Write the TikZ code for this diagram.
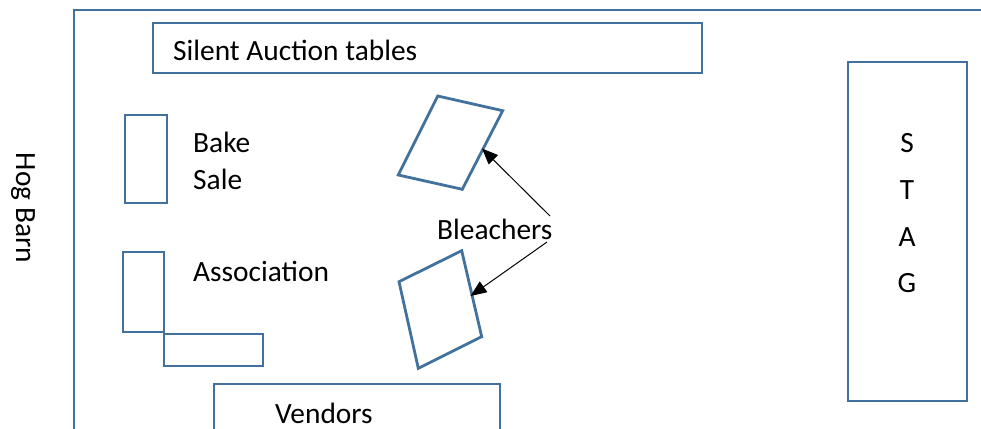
\documentclass[tikz,border=0pt]{standalone}
\usepackage{fontspec}
\setmainfont{Carlito}
\usetikzlibrary{arrows.meta}
\definecolor{plan}{RGB}{65,113,156}
\begin{document}
\begin{tikzpicture}[x=1pt,y=-1pt,
  area/.style={draw=plan,line width=2.8pt,inner sep=0pt,outer sep=0pt},
  lbl/.style={font=\fontsize{29.4}{34}\selectfont,inner sep=0pt,text=black},
  pointer/.style={-{Triangle[length=16pt,width=13pt]},line width=1pt,black}]
\useasboundingbox (0,0) rectangle (981,428);
% outer wall
\draw[draw=plan,line width=2.8pt] (74,440) -- (74,10) -- (990,10);
% boxes
\node[area,minimum width=549pt,minimum height=50pt] (auction) at (427.5,48) {};
\node[area,minimum width=42pt,minimum height=88pt] (bake) at (146,159) {};
\node[area,minimum width=41pt,minimum height=80pt] (assocA) at (143.5,292) {};
\node[area,minimum width=99pt,minimum height=32pt] (assocB) at (213.5,350) {};
\node[area,minimum width=286pt,minimum height=60pt] (vendors) at (357,414) {};
\node[area,minimum width=119pt,minimum height=339pt] (stage) at (907.5,231.5) {};
% bleachers
\draw[draw=plan,line width=2.8pt,line join=miter] (437.7,96) coordinate (b1a) -- (502.7,110.7) coordinate (b1b) -- (462.3,189.3) coordinate (b1c) -- (398.3,175) coordinate (b1d) -- cycle;
\draw[draw=plan,line width=2.8pt,line join=miter] (461.7,250.7) coordinate (b2a) -- (481.7,336.7) coordinate (b2b) -- (418.3,368.3) coordinate (b2c) -- (399,281.7) coordinate (b2d) -- cycle;
\coordinate (tip1) at (482,148.5);
\coordinate (tip2) at (470.5,296);
% labels
\node[lbl,anchor=west] (auctiontxt) at (173,50) {Silent Auction tables};
\node[lbl,anchor=west,align=left,font=\fontsize{29.4}{37}\selectfont] (baketxt) at (193,161) {Bake\\Sale};
\node[lbl,anchor=west] (assoctxt) at (193,271) {Association};
\node[lbl,anchor=west] (vendtxt) at (275,413) {Vendors};
\node[lbl,rotate=-90] (hog) at (23,208) {Hog Barn};
\node[lbl] (s1) at (907,143) {S};
\node[lbl] (s2) at (907,190) {T};
\node[lbl] (s3) at (907,237) {A};
\node[lbl] (s4) at (907,283) {G};
\node[lbl,anchor=west] (bl) at (437,229) {Bleachers};
\coordinate (st1) at (550,216);
\coordinate (st2) at (547,242);
\draw[pointer] (st1) -- (tip1);
\draw[pointer] (st2) -- (tip2);
\end{tikzpicture}
\end{document}
